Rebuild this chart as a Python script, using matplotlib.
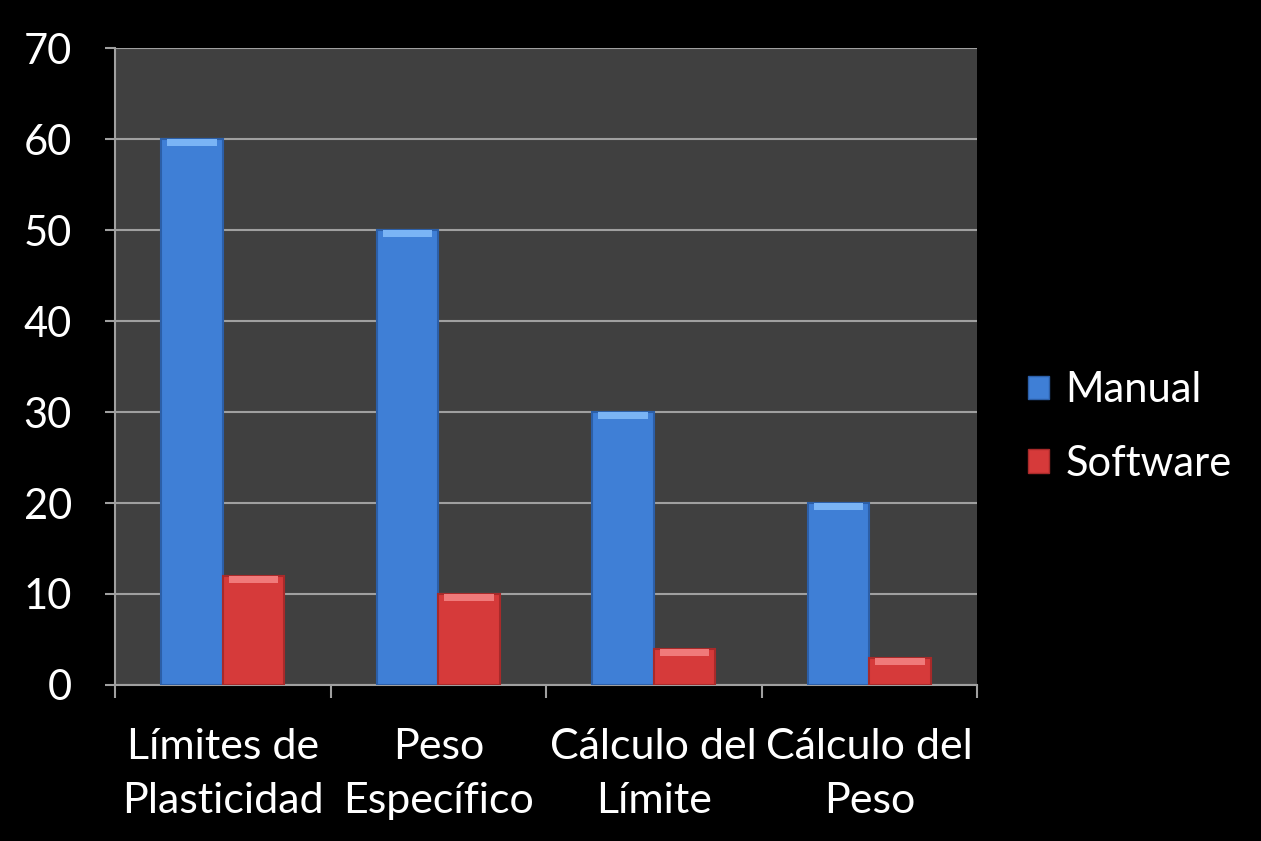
import matplotlib
matplotlib.use("Agg")
import matplotlib.pyplot as plt
import numpy as np
from matplotlib.patches import Patch

categories = ["Límites de\nPlasticidad", "Peso\nEspecífico", "Cálculo del\nLímite", "Cálculo del\nPeso"]
manual = [60, 50, 30, 20]
software = [12, 10, 4, 3]
yticks = [0, 10, 20, 30, 40, 50, 60, 70]

plt.rcParams['font.family'] = ['Lato', 'DejaVu Sans']

fig = plt.figure(figsize=(12.61, 8.41), dpi=100, facecolor='black')
ax = fig.add_axes([0.0912, 0.1855, 0.6836, 0.7574])
ax.set_facecolor('#404040')

n = len(categories)
x = np.arange(n)
w = 1 / 3.5
blue = '#3f7fd6'
red = '#d63a3a'
ax.bar(x - w/2, manual, width=w, color=blue, edgecolor='#2c5fa8', linewidth=1.5, zorder=3)
ax.bar(x + w/2, software, width=w, color=red, edgecolor='#a82a2a', linewidth=1.5, zorder=3)
# top bevel highlight
hl = 0.8
ax.bar(x - w/2, [hl]*n, bottom=[v - hl for v in manual], width=w*0.8, color='#7ab4f5', linewidth=0, zorder=4)
ax.bar(x + w/2, [hl]*n, bottom=[v - hl for v in software], width=w*0.8, color='#f07a7a', linewidth=0, zorder=4)

ax.set_xlim(-0.5, n - 0.5)
ax.set_ylim(0, 70)
ax.set_yticks(yticks)
ax.set_yticklabels([str(t) for t in yticks])
ax.yaxis.grid(True, color='#a0a0a0', linewidth=1.5, zorder=1)
ax.set_axisbelow(True)

ax.set_xticks(np.arange(-0.5, n, 1.0))
ax.set_xticklabels([])
ax.set_xticks(x, minor=True)
ax.set_xticklabels(categories, minor=True)
ax.tick_params(axis='x', which='minor', length=0, pad=31, labelsize=31, colors='white')
ax.tick_params(axis='x', which='major', length=9, width=1.5, color='#a0a0a0', direction='out')
ax.tick_params(axis='y', length=7, width=1.5, color='#a0a0a0', labelsize=30, labelcolor='white', pad=24)
for lab in ax.get_xticklabels(minor=True):
    lab.set_linespacing(1.5)

for s in ['top', 'right']:
    ax.spines[s].set_visible(False)
for s in ['left', 'bottom']:
    ax.spines[s].set_color('#a0a0a0')
    ax.spines[s].set_linewidth(1.5)

handles = [Patch(facecolor=blue, edgecolor='#2c5fa8'), Patch(facecolor=red, edgecolor='#a82a2a')]
leg = fig.legend(handles, ['Manual', 'Software'], loc='center left',
                 bbox_to_anchor=(1028/1261, 1 - 427/841), frameon=False,
                 borderpad=0, borderaxespad=0,
                 fontsize=30, handlelength=0.5, handleheight=0.5, handletextpad=0.4,
                 labelspacing=0.85, labelcolor='white')

fig.savefig('out.png', dpi=100, facecolor='black')
